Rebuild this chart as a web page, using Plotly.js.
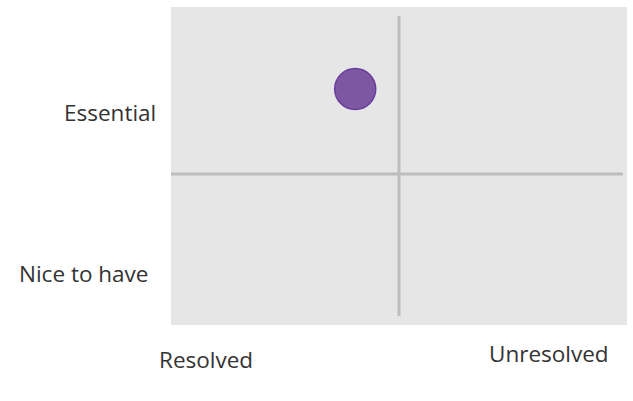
<!DOCTYPE html>
<html>
<head>
<meta charset="utf-8">
<script src="https://cdn.plot.ly/plotly-3.0.1.min.js"></script>
<style>html,body{margin:0;padding:0;background:#fff;}#chart{width:633px;height:401px;}</style>
</head>
<body>
<div id="chart"></div>
<script>
// Data
const pointX = [4.04];
const pointY = [7.42];
const dividerVX = [5.0, 5.0];
const dividerVY = [0.28, 9.72];
const dividerHX = [0, 9.91];
const dividerHY = [4.75, 4.75];
const rowLabels = ["Essential", "Nice to have"];
const colLabels = ["Resolved", "Unresolved"];

const lineStyle = {color: '#bdbdbd', width: 3};
const traces = [
  {x: dividerVX, y: dividerVY, mode: 'lines', line: lineStyle, hoverinfo: 'skip', showlegend: false},
  {x: dividerHX, y: dividerHY, mode: 'lines', line: lineStyle, hoverinfo: 'skip', showlegend: false},
  {x: pointX, y: pointY, mode: 'markers', showlegend: false,
   marker: {size: 41, color: '#7e57a2', line: {color: '#6a3c9e', width: 1.5}}}
];

const font = {family: 'Open Sans, sans-serif', size: 22.5, color: '#333333'};
const annotations = [
  {text: rowLabels[0], xref: 'paper', yref: 'paper', x: -0.0285, y: 0.667, xanchor: 'right', yanchor: 'middle', showarrow: false, font: font},
  {text: rowLabels[1], xref: 'paper', yref: 'paper', x: -0.046, y: 0.1635, xanchor: 'right', yanchor: 'middle', showarrow: false, font: font},
  {text: colLabels[0], xref: 'paper', yref: 'paper', x: 0.0778, y: -0.107, xanchor: 'center', yanchor: 'middle', showarrow: false, font: font},
  {text: colLabels[1], xref: 'paper', yref: 'paper', x: 0.829, y: -0.091, xanchor: 'center', yanchor: 'middle', showarrow: false, font: font}
];

const axisBase = {showgrid: false, zeroline: false, showticklabels: false, ticks: '', showline: false, fixedrange: true};
const layout = {
  width: 633, height: 401,
  margin: {l: 171, r: 6, t: 7, b: 76, pad: 0},
  paper_bgcolor: '#ffffff',
  plot_bgcolor: '#e6e6e6',
  xaxis: Object.assign({range: [0, 10]}, axisBase),
  yaxis: Object.assign({range: [0, 10]}, axisBase),
  annotations: annotations,
  showlegend: false
};
Plotly.newPlot('chart', traces, layout, {displayModeBar: false, staticPlot: true});
</script>
</body>
</html>
